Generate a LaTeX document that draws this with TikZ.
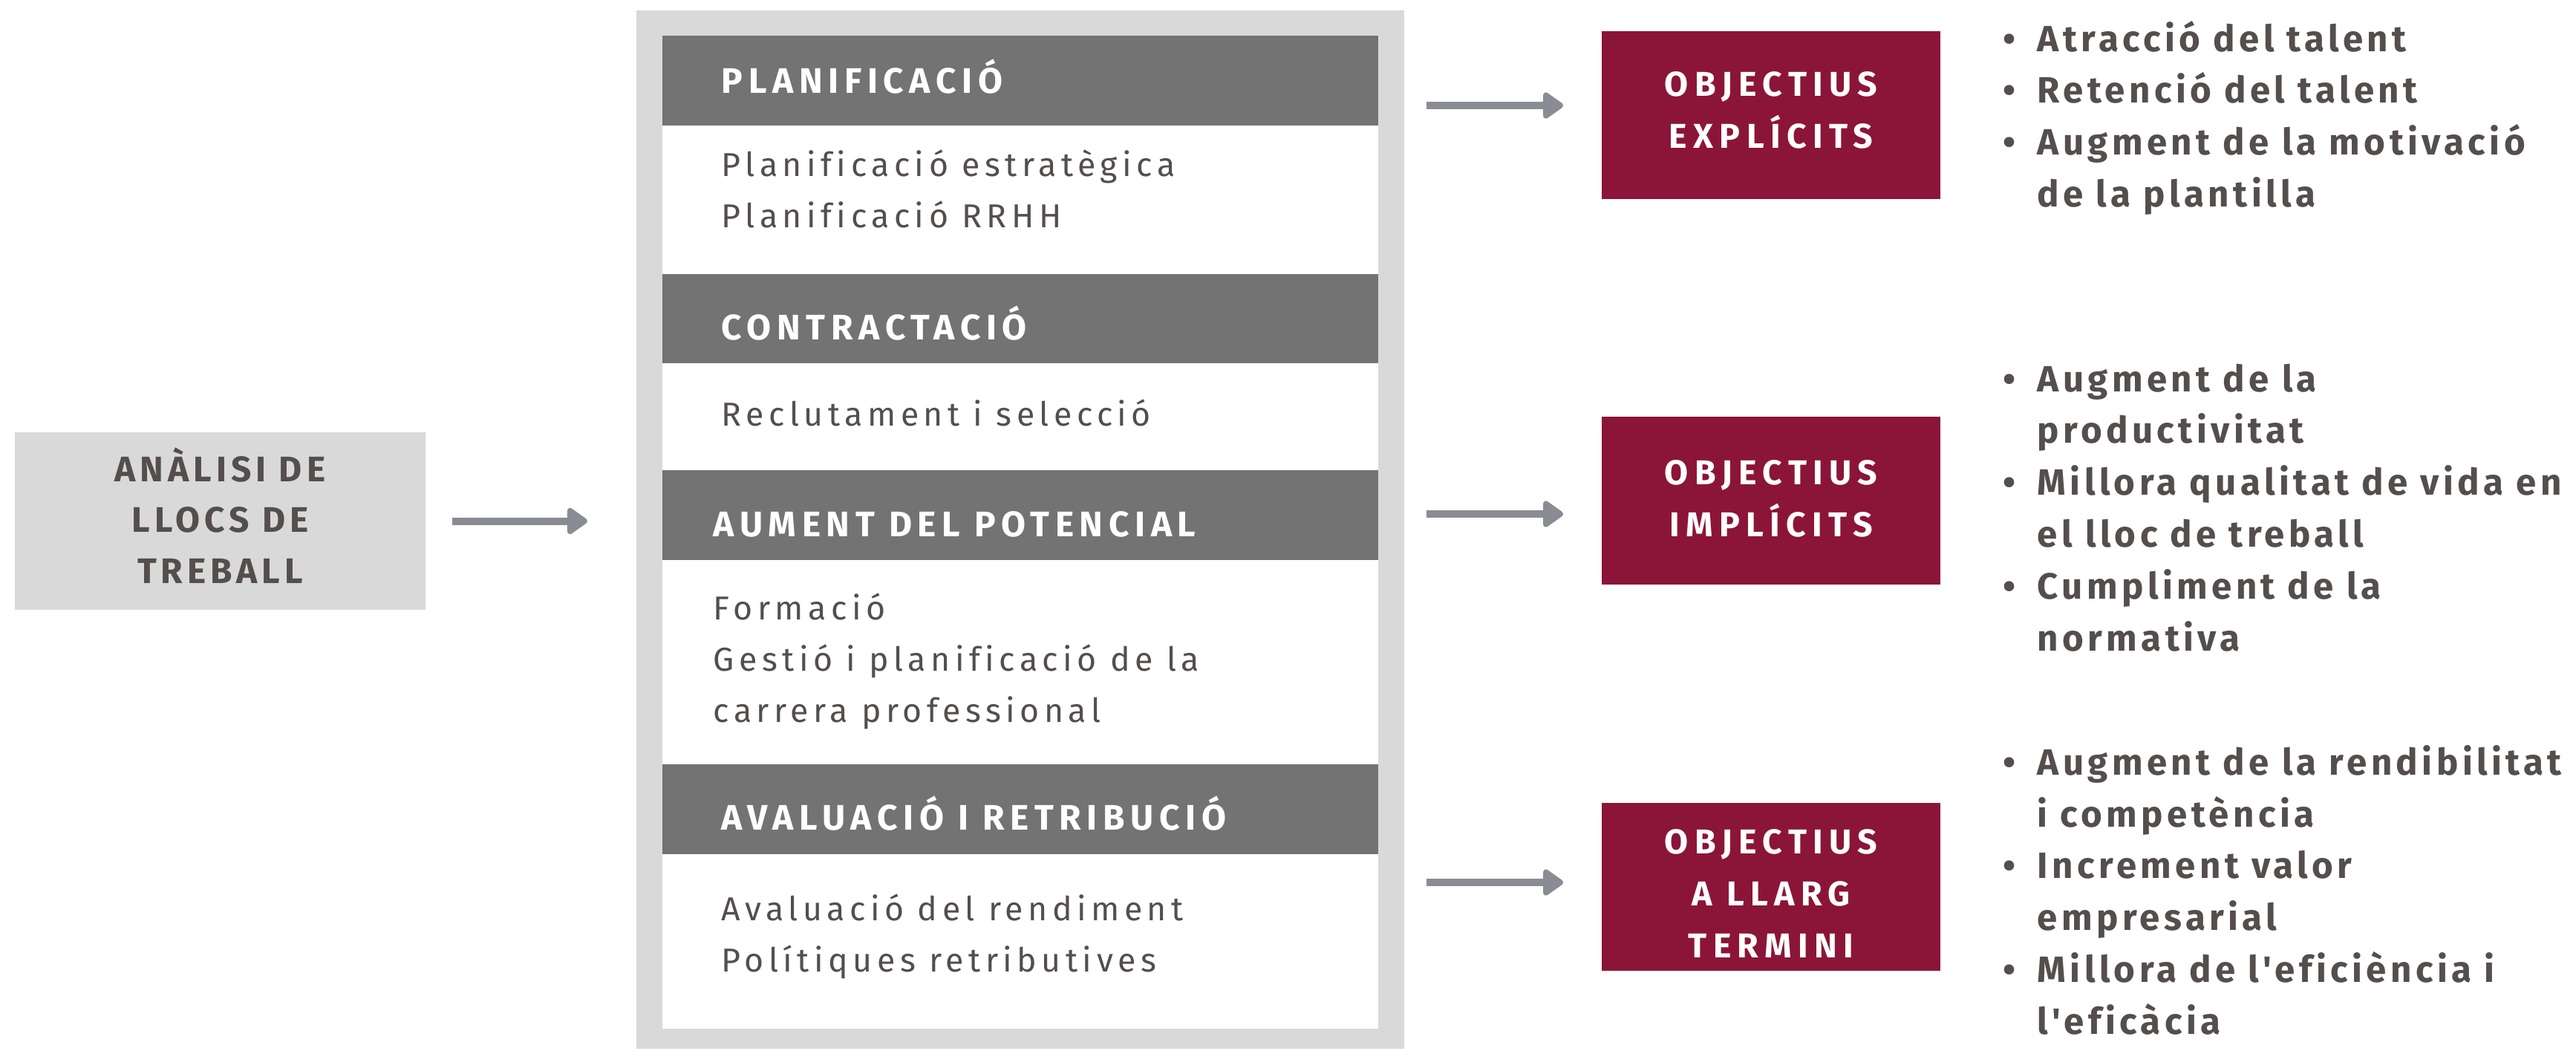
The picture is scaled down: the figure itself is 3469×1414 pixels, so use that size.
\documentclass[tikz,border=0pt]{standalone}
\usepackage{fontspec}
\setmainfont{Fira Sans}
\newfontfamily\bodyf[LetterSpace=14.5,Ligatures=CommonOff]{Fira Sans}
\newfontfamily\hdrf[LetterSpace=16,Ligatures=CommonOff]{Fira Sans}
\newfontfamily\lboxf[LetterSpace=12.5,Ligatures=CommonOff]{Fira Sans}
\newfontfamily\objf[LetterSpace=18,Ligatures=CommonOff]{Fira Sans}
\newfontfamily\bulf[LetterSpace=11,Ligatures=CommonOff]{Fira Sans}
\usetikzlibrary{arrows.meta}
\definecolor{txt}{RGB}{84,78,76}
\definecolor{hdr}{RGB}{115,115,115}
\definecolor{contgray}{RGB}{217,217,217}
\definecolor{wine}{RGB}{139,21,56}
\definecolor{arrgray}{RGB}{138,140,148}
\tikzset{
  lbox/.style={fill=contgray, draw=none, inner sep=0, minimum width=5.53cm, minimum height=2.39cm},
  hdrbar/.style={fill=hdr, draw=none, inner sep=0, minimum width=9.64cm, minimum height=1.2cm},
  objbox/.style={fill=wine, draw=none, inner sep=0, minimum width=4.56cm, minimum height=2.26cm},
  lboxtext/.style={font=\lboxf\bfseries\fontsize{13.6}{19.35}\selectfont, text=txt, inner sep=0, align=center, anchor=base},
  objtext/.style={font=\objf\bfseries\fontsize{13.2}{19.9}\selectfont, text=white, inner sep=0, align=center, anchor=base},
  hdrtext/.style={font=\hdrf\bfseries\fontsize{13.6}{16}\selectfont, text=white, inner sep=0, anchor=base west},
  bodytext/.style={font=\bodyf\fontsize{12.7}{19.6}\selectfont, text=txt, inner sep=0, anchor=base west, align=left},
  bullist/.style={font=\bulf\bfseries\fontsize{14}{19.9}\selectfont, text=txt, inner sep=0, anchor=base west},
  arrow/.style={draw=arrgray, line width=0.1cm, -{Triangle[length=0.30cm,width=0.40cm,round]}},
}
\newcommand{\bul}{\makebox[0.46cm][l]{•}}
\begin{document}
\begin{tikzpicture}[x=0.01cm,y=-0.01cm]
\useasboundingbox (0,0) rectangle (3469,1414);
% left box
\node[lbox] (analisi) at (296.5,701.5) {};
\node[lboxtext] (analisiT) at (296.5,785) {ANÀLISI DE\\LLOCS DE\\TREBALL};
% container
\node[fill=contgray, draw=none, inner sep=0, minimum width=10.34cm, minimum height=13.98cm] (cont) at (1374,713) {};
\node[fill=white, draw=none, inner sep=0, minimum width=9.64cm, minimum height=13.36cm] (col) at (1374,717) {};
\node[hdrbar] (bar1) at (1374,108.5) {};
\node[hdrbar] (bar2) at (1374,429) {};
\node[hdrbar] (bar3) at (1374,693.5) {};
\node[hdrbar] (bar4) at (1374,1089.5) {};
\node[hdrtext] (h1) at (971,125) {PLANIFICACIÓ};
\node[hdrtext] (h2) at (971,457) {CONTRACTACIÓ};
\node[hdrtext] (h3) at (960,722) {AUMENT DEL POTENCIAL};
\node[hdrtext] (h4) at (971,1117) {AVALUACIÓ I RETRIBUCIÓ};
% body texts (anchor = baseline of last line)
\node[bodytext] (b1) at (971,306) {Planificació estratègica\\Planificació RRHH};
\node[bodytext] (b2) at (971,573) {Reclutament i selecció};
\node[bodytext] (b3) at (960,972) {Formació\\Gestió i planificació de la\\carrera professional};
\node[bodytext] (b4) at (971,1308) {Avaluació del rendiment\\Polítiques retributives};
% objective boxes
\node[objbox] (obj1) at (2385,155) {};
\node[objbox] (obj2) at (2385,674) {};
\node[objbox] (obj3) at (2385,1194) {};
\node[objtext] (obj1T) at (2385,199) {OBJECTIUS\\EXPLÍCITS};
\node[objtext] (obj2T) at (2385,722) {OBJECTIUS\\IMPLÍCITS};
\node[objtext] (obj3T) at (2385,1289) {OBJECTIUS\\A LLARG\\TERMINI};
% bullet lists
\node[bullist] (l1) at (2697,69) {\begin{tabular}[t]{@{}l@{}l@{}}\bul & Atracció del talent\\ \bul & Retenció del talent\\ \bul & Augment de la motivació\\ & de la plantilla\end{tabular}};
\node[bullist] (l2) at (2697,527) {\begin{tabular}[t]{@{}l@{}l@{}}\bul & Augment de la\\ & productivitat\\ \bul & Millora qualitat de vida en\\ & el lloc de treball\\ \bul & Cumpliment de la\\ & normativa\end{tabular}};
\node[bullist] (l3) at (2697,1043) {\begin{tabular}[t]{@{}l@{}l@{}}\bul & Augment de la rendibilitat\\ & i competència\\ \bul & Increment valor\\ & empresarial\\ \bul & Millora de l'eficiència i\\ & l'eficàcia\end{tabular}};
% arrows
\draw[arrow, shorten <=0.35cm, shorten >=0.65cm] (analisi.east) -- (cont.west |- analisi.east);
\coordinate (y1) at (1891,142);
\coordinate (y2) at (1891,692);
\coordinate (y3) at (1891,1188);
\draw[arrow, shorten <=0.29cm, shorten >=0.51cm] (cont.east |- y1) -- (obj1.west |- y1);
\draw[arrow, shorten <=0.29cm, shorten >=0.51cm] (cont.east |- y2) -- (obj2.west |- y2);
\draw[arrow, shorten <=0.29cm, shorten >=0.51cm] (cont.east |- y3) -- (obj3.west |- y3);
\end{tikzpicture}
\end{document}
